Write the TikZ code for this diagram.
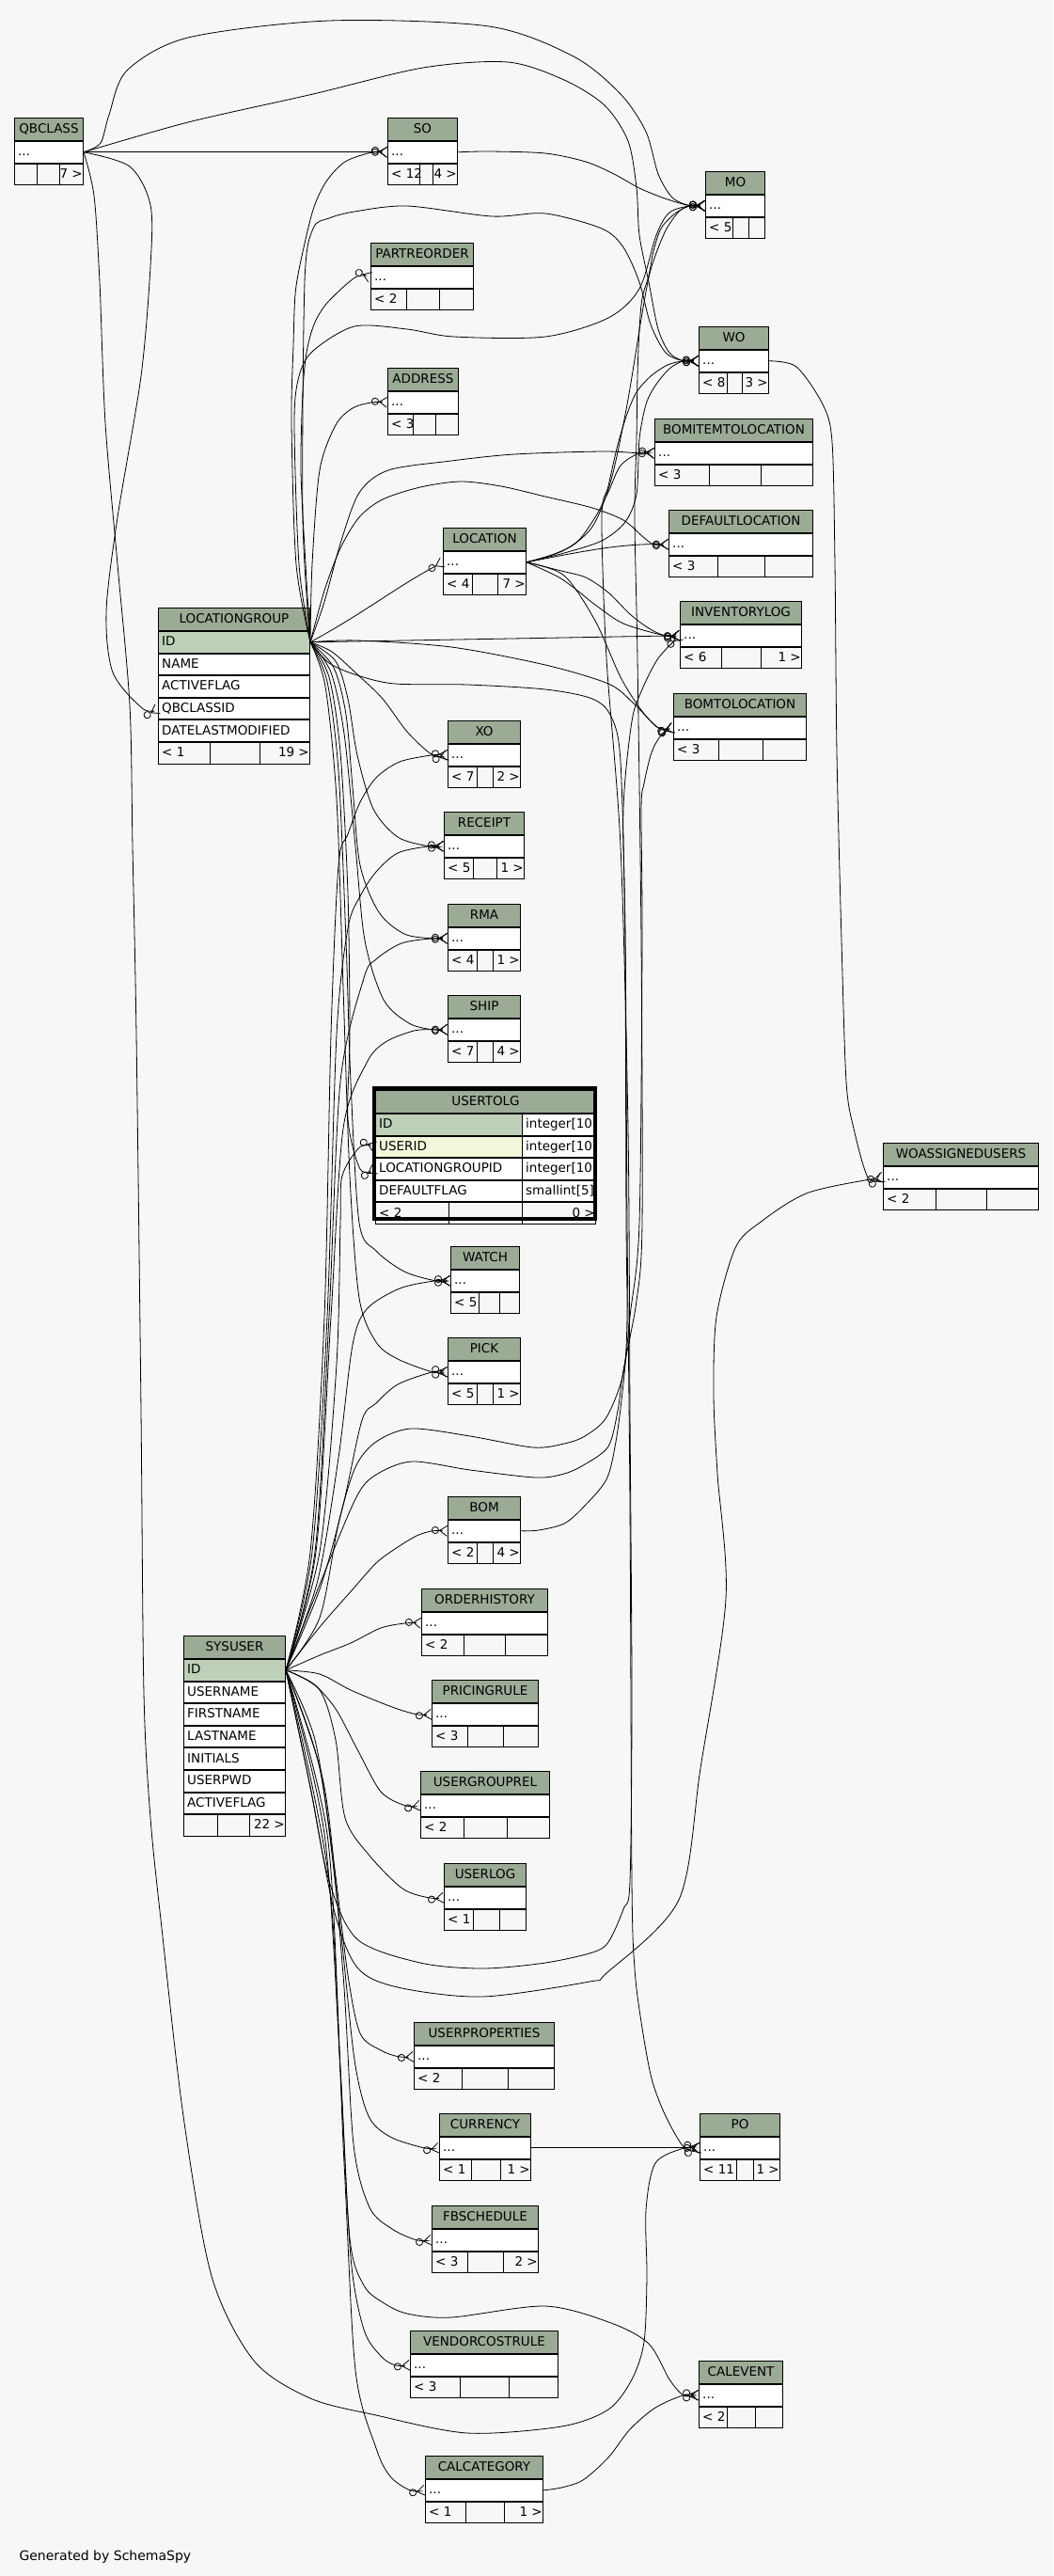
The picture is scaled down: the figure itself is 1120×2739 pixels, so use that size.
\documentclass[tikz,border=0pt]{standalone}
\usepackage{fontspec}
\setmainfont{DejaVu Sans}
\usetikzlibrary{arrows.meta}

\definecolor{bgcol}{HTML}{F7F7F7}
\definecolor{headcol}{HTML}{9BAB96}
\definecolor{pkcol}{HTML}{BED1B8}
\definecolor{fkcol}{HTML}{F4F7DA}

\tikzset{
  tabfont/.style={font=\fontsize{13.5}{15}\selectfont, text height=9.8pt, text depth=2pt},
  tabhead/.style={draw, line width=1pt, fill=headcol, inner sep=0pt, minimum height=24pt, tabfont},
  tabrow/.style={draw, line width=1pt, fill=white, inner sep=0pt, minimum height=22.6pt},
  rowtext/.style={anchor=west, inner xsep=4pt, inner ysep=0pt, tabfont},
  fk/.style={line width=0.8pt, -{Circle[open, length=8pt, width=8pt] Straight Barb[reversed, length=8pt, width=11pt]}}
}

% a column row below another row
\newcommand{\colrow}[5]{%
  \node[tabrow, fill=#4, minimum width=#3, anchor=north west] (#1) at (#2.south west) {};
  \node[rowtext] at (#1.west) {#5};}
% footer with three cells
\newcommand{\footrow}[7]{%
  \node[tabrow, fill=bgcol, minimum width=#3, anchor=north west] (#1) at (#2.south west) {};
  \draw[line width=1pt] ([xshift=#4]#1.north west) -- ([xshift=#4]#1.south west)
    ([xshift=#5]#1.north west) -- ([xshift=#5]#1.south west);
  \node[rowtext] at (#1.west) {#6};
  \node[rowtext, anchor=east, inner xsep=1pt] at (#1.east) {#7};}
% collapsed table: name, x, y, width, title, cut 1, cut 2, left, right
\newcommand{\smalltab}[9]{%
  \node[tabhead, minimum width=#4, anchor=north west] (#1-h) at (#2,#3) {#5};
  \colrow{#1}{#1-h}{#4}{white}{...}
  \footrow{#1-f}{#1}{#4}{#6}{#7}{#8}{#9}}
% foreign key lines
\newcommand{\fkpath}[3]{%
  \draw[fk] plot[smooth, tension=0.5] coordinates {(#1) #2 ([xshift=-16pt]#3.west) (#3.west)};}
\newcommand{\fkpathd}[3]{%
  \draw[fk] plot[smooth, tension=0.5] coordinates {(#1) #2 (#3.west)};}

\begin{document}
\begin{tikzpicture}[x=1pt, y=-1pt]
  \fill[bgcol] (0,0) rectangle (1120,2739);
  \useasboundingbox (0,0) rectangle (1120,2739);

  % collapsed tables
  \smalltab{qb}{15}{125}{73}{QBCLASS}{24}{48}{}{7 >}
  \smalltab{so}{412}{125}{74}{SO}{34}{48}{< 12}{4 >}
  \smalltab{pr}{394}{258}{109}{PARTREORDER}{38}{73}{< 2}{}
  \smalltab{addr}{412}{391}{75}{ADDRESS}{27}{51}{< 3}{}
  \smalltab{mo}{750}{182}{63}{MO}{29}{46}{< 5}{}
  \smalltab{wo}{743}{347}{74}{WO}{30}{46}{< 8}{3 >}
  \smalltab{bil}{696}{445}{168}{BOMITEMTOLOCATION}{58}{113}{< 3}{}
  \smalltab{dl}{711}{542}{153}{DEFAULTLOCATION}{52}{102}{< 3}{}
  \smalltab{loc}{471}{561}{88}{LOCATION}{31}{58}{< 4}{7 >}
  \smalltab{inv}{723}{639}{129}{INVENTORYLOG}{44}{86}{< 6}{1 >}
  \smalltab{btl}{716}{737}{141}{BOMTOLOCATION}{48}{95}{< 3}{}
  \smalltab{xo}{476}{766}{77}{XO}{31}{48}{< 7}{2 >}
  \smalltab{rec}{472}{863}{85}{RECEIPT}{31}{56}{< 5}{1 >}
  \smalltab{rma}{476}{961}{77}{RMA}{31}{48}{< 4}{1 >}
  \smalltab{ship}{476}{1058}{77}{SHIP}{31}{48}{< 7}{4 >}
  \smalltab{woa}{939}{1215}{165}{WOASSIGNEDUSERS}{56}{110}{< 2}{}
  \smalltab{watch}{479}{1325}{73}{WATCH}{30}{52}{< 5}{}
  \smalltab{pick}{476}{1422}{77}{PICK}{31}{48}{< 5}{1 >}
  \smalltab{bom}{476}{1591}{77}{BOM}{31}{48}{< 2}{4 >}
  \smalltab{oh}{448}{1689}{134}{ORDERHISTORY}{45}{89}{< 2}{}
  \smalltab{prc}{459}{1786}{113}{PRICINGRULE}{38}{76}{< 3}{}
  \smalltab{ugr}{447}{1883}{137}{USERGROUPREL}{46}{92}{< 2}{}
  \smalltab{ulog}{472}{1981}{87}{USERLOG}{31}{59}{< 1}{}
  \smalltab{uprop}{440}{2150}{149}{USERPROPERTIES}{51}{100}{< 2}{}
  \smalltab{cur}{467}{2247}{97}{CURRENCY}{34}{65}{< 1}{1 >}
  \smalltab{po}{744}{2247}{85}{PO}{39}{57}{< 11}{1 >}
  \smalltab{fbs}{459}{2345}{113}{FBSCHEDULE}{38}{76}{< 3}{2 >}
  \smalltab{vcr}{436}{2478}{157}{VENDORCOSTRULE}{53}{105}{< 3}{}
  \smalltab{calev}{743}{2510}{89}{CALEVENT}{30}{60}{< 2}{}
  \smalltab{calc}{452}{2611}{125}{CALCATEGORY}{43}{84}{< 1}{1 >}

  % LOCATIONGROUP
  \node[tabhead, minimum width=161, anchor=north west] (lg-h) at (168,646) {LOCATIONGROUP};
  \colrow{lg}{lg-h}{161}{pkcol}{ID}
  \colrow{lg-name}{lg}{161}{white}{NAME}
  \colrow{lg-act}{lg-name}{161}{white}{ACTIVEFLAG}
  \colrow{lg-qb}{lg-act}{161}{white}{QBCLASSID}
  \colrow{lg-date}{lg-qb}{161}{white}{DATELASTMODIFIED}
  \footrow{lg-f}{lg-date}{161}{55}{108}{< 1}{19 >}

  % SYSUSER
  \node[tabhead, minimum width=108, anchor=north west] (su-h) at (195,1739) {SYSUSER};
  \colrow{su}{su-h}{108}{pkcol}{ID}
  \colrow{su-name}{su}{108}{white}{USERNAME}
  \colrow{su-first}{su-name}{108}{white}{FIRSTNAME}
  \colrow{su-last}{su-first}{108}{white}{LASTNAME}
  \colrow{su-init}{su-last}{108}{white}{INITIALS}
  \colrow{su-pwd}{su-init}{108}{white}{USERPWD}
  \colrow{su-act}{su-pwd}{108}{white}{ACTIVEFLAG}
  \footrow{su-f}{su-act}{108}{36}{70}{}{22 >}

  % USERTOLG (the focus table)
  \node[tabhead, minimum width=234, anchor=north west] (ulg-h) at (399,1159) {USERTOLG};
  \colrow{ulg-id}{ulg-h}{234}{pkcol}{ID}
  \colrow{ulg-user}{ulg-id}{234}{fkcol}{USERID}
  \colrow{ulg-lg}{ulg-user}{234}{white}{LOCATIONGROUPID}
  \colrow{ulg-flag}{ulg-lg}{234}{white}{DEFAULTFLAG}
  \footrow{ulg-f}{ulg-flag}{234}{78}{156}{< 2}{0 >}
  \foreach \r in {ulg-id, ulg-user, ulg-lg, ulg-flag}
    \node[tabrow, minimum width=78, anchor=north east] at (\r.north east) {};
  \draw[line width=3.5pt] (397.75,1157) rectangle (633,1296);
  \foreach \r/\t in {ulg-id/integer[10], ulg-user/integer[10], ulg-lg/integer[10], ulg-flag/smallint[5]}
    \node[rowtext] at ([xshift=156]\r.west) {\t};

  \node[anchor=base west, font=\fontsize{14}{16}\selectfont] (gen) at (17,2722) {Generated by SchemaSpy};

  % QBCLASS
  \draw[fk] (qb.east) -- (so.west);
  \fkpath{qb.east}{(107,152) (116,122) (135,75) (200,40) (350,22) (520,28) (610,60) (660,100) (687,140) (700,185) (715,210)}{mo}
  \fkpath{qb.east}{(200,130) (333,100) (450,72) (540,66) (600,85) (643,112) (668,150) (677,200) (680,250) (690,300) (700,350) (712,375)}{wo}
  \fkpath{qb.east}{(138,177) (160,218) (160,283) (150,400) (125,550) (113,650) (120,715)}{lg-qb}
  \fkpath{qb.east}{(100,208) (106,300) (112,450) (125,600) (138,750) (141,900) (145,1100) (150,1500) (153,1800) (160,1933) (172,2050) (195,2250) (225,2420) (270,2510) (330,2550) (400,2568) (497,2587) (597,2580) (647,2562) (672,2530) (685,2490) (688,2420) (687,2350) (697,2300)}{po}
  \fkpath{so.east}{(520,161) (580,163) (623,172) (653,185) (680,200) (707,211)}{mo}

  % LOCATIONGROUP
  \draw[fk] (lg.east) -- (inv.west);
  \draw[fk] (lg.east) .. controls (390,650) and (420,625) .. (loc.west);
  \fkpath{lg.east}{(345,640) (362,578) (382,524) (413,500) (480,490) (547,483) (640,480)}{bil}
  \fkpath{lg.east}{(345,628) (362,583) (382,550) (407,531) (447,518) (490,512) (533,517) (580,528) (630,540) (663,553) (683,570)}{dl}
  \fkpath{lg.east}{(353,693) (380,717) (407,743) (433,778)}{xo}
  \fkpath{lg.east}{(357,703) (370,743) (380,803) (397,860) (423,890)}{rec}
  \fkpath{lg.east}{(355,710) (368,760) (375,837) (383,920) (403,970) (430,993)}{rma}
  \fkpath{lg.east}{(352,715) (366,780) (378,900) (388,1000) (408,1063) (435,1088)}{ship}
  \fkpath{lg.east}{(350,720) (362,800) (370,950) (372,1100) (370,1190)}{ulg-lg}
  \fkpath{lg.east}{(348,725) (360,820) (368,1000) (373,1150) (382,1300) (400,1330) (430,1352)}{watch}
  \fkpath{lg.east}{(346,730) (358,850) (365,1050) (372,1250) (382,1380) (400,1427) (423,1445)}{pick}
  \fkpath{lg.east}{(325,600) (320,500) (322,417) (326,375) (334,345) (348,322)}{pr}
  \fkpath{lg.east}{(332,600) (340,500) (357,452) (375,434)}{addr}
  \fkpath{lg.east}{(315,600) (310,450) (312,367) (314,313) (320,277) (333,223) (347,193) (367,172)}{so}
  \fkpath{lg.east}{(318,600) (313,450) (318,400) (333,373) (377,347) (433,350) (483,358) (580,358) (647,338) (680,307) (698,250) (712,226)}{mo}
  \fkpath{lg.east}{(322,550) (324,300) (333,243) (350,232) (377,225) (433,219) (523,230) (580,227) (640,243) (663,263) (680,300) (692,345) (708,375)}{wo}
  \fkpath{lg.east}{(380,681) (480,688) (580,707) (647,727) (673,747)}{btl}
  \fkpath{lg.east}{(350,705) (380,718) (420,727) (497,728) (580,733) (630,743) (650,762) (660,810) (665,1000) (667,1300) (670,1600) (672,2000) (675,2093) (682,2150) (693,2210) (708,2250)}{po}

  % LOCATION
  \draw[fk] (loc.east) .. controls (620,586) and (660,578) .. (dl.west);
  \fkpath{loc.east}{(587,590) (613,577) (633,550) (647,523) (660,495)}{bil}
  \fkpath{loc.east}{(600,585) (630,560) (650,510) (667,430) (683,333) (692,287) (707,247) (722,225)}{mo}
  \fkpath{loc.east}{(600,588) (640,575) (665,555) (677,525) (680,467) (687,430) (697,410) (712,392)}{wo}
  \fkpath{loc.east}{(597,607) (623,614) (647,630) (670,653) (690,668)}{inv}
  \fkpath{loc.east}{(593,613) (613,627) (633,643) (663,663)}{inv}
  \fkpath{loc.east}{(600,612) (633,660) (660,720) (682,755)}{btl}

  % WO, BOM, CURRENCY, CALCATEGORY
  \fkpath{wo.east}{(847,390) (875,430) (885,470) (888,600) (890,800) (895,1000) (900,1150) (908,1200)}{woa}
  \fkpathd{bom.east}{(573,1627) (600,1620) (620,1603) (645,1573) (655,1533) (662,1480) (670,1400) (680,1300) (683,1000) (682,860) (685,833) (693,800) (703,782)}{btl}
  \draw[fk] (cur.east) -- (po.west);
  \fkpath{calc.east}{(597,2645) (620,2637) (647,2613) (670,2583) (697,2560)}{calev}

  % SYSUSER
  \fkpath{su.east}{(340,1760) (373,1747) (405,1731)}{oh}
  \fkpath{su.east}{(340,1780) (373,1797) (417,1815)}{prc}
  \fkpath{su.east}{(333,1790) (357,1817) (380,1860) (405,1905)}{ugr}
  \fkpath{su.east}{(340,1797) (357,1850) (367,1933) (393,1973) (428,2008)}{ulog}
  \fkpath{su.east}{(335,1850) (355,1980) (370,2100) (383,2162) (405,2180)}{uprop}
  \fkpath{su.east}{(340,1880) (362,2050) (377,2190) (392,2250) (415,2272)}{cur}
  \fkpath{su.east}{(345,1900) (365,2100) (376,2280) (393,2347) (417,2370)}{fbs}
  \fkpath{su.east}{(348,1950) (362,2200) (373,2400) (387,2477) (405,2505)}{vcr}
  \fkpath{su.east}{(350,2000) (366,2300) (378,2520) (400,2603) (415,2633)}{calc}
  \fkpath{su.east}{(345,1950) (362,2200) (372,2380) (387,2430) (407,2448) (433,2460) (480,2464) (580,2452) (650,2470) (690,2492) (712,2530)}{calev}
  \fkpathd{su.east}{(330,1900) (355,2030) (380,2092) (423,2113) (513,2123) (627,2107) (645,2098) (722,2020) (745,1880) (772,1700) (763,1567) (759,1483) (762,1400) (782,1327) (808,1300) (860,1268)}{woa}
  \fkpath{su.east}{(340,1730) (375,1690) (400,1662) (420,1647) (443,1633)}{bom}
  \fkpath{su.east}{(340,1690) (365,1600) (385,1510) (400,1492) (423,1472)}{pick}
  \fkpath{su.east}{(338,1680) (360,1550) (375,1430) (390,1392) (425,1370)}{watch}
  \fkpath{su.east}{(336,1650) (352,1400) (365,1200) (390,1130) (410,1108) (440,1096)}{ship}
  \fkpath{su.east}{(335,1650) (350,1400) (362,1150) (387,1040) (400,1020) (427,1003)}{rma}
  \fkpath{su.east}{(332,1650) (348,1400) (358,1100) (370,987) (383,953) (400,927) (423,907)}{rec}
  \fkpath{su.east}{(330,1650) (345,1400) (352,1100) (360,920) (370,887) (383,853) (400,827) (425,810)}{xo}
  \fkpath{su.east}{(340,1650) (358,1450) (362,1300) (364,1250)}{ulg-user}
  \fkpathd{su.east}{(340,1720) (360,1620) (378,1560) (400,1533) (437,1519) (500,1527) (567,1539) (600,1535) (622,1527) (645,1507) (663,1460) (667,1400) (666,1300) (665,1000) (663,860) (672,767) (683,733) (700,700)}{inv}
  \fkpath{su.east}{(350,1660) (380,1590) (400,1568) (438,1554) (500,1563) (570,1571) (600,1567) (622,1557) (647,1538) (657,1500) (663,1457) (677,1383) (683,1300) (682,1000) (678,700) (675,550) (677,467) (678,400) (680,350) (683,317) (690,293) (695,267) (703,243) (718,227)}{mo}
  \fkpath{su.east}{(330,1900) (350,2000) (380,2062) (447,2087) (513,2093) (580,2087) (630,2076) (647,2065) (663,2030) (670,2000) (672,1800) (670,1500) (668,1200) (660,900) (645,700) (640,550) (647,517) (657,473) (667,440) (677,417) (692,400) (710,388)}{wo}
\end{tikzpicture}
\end{document}
